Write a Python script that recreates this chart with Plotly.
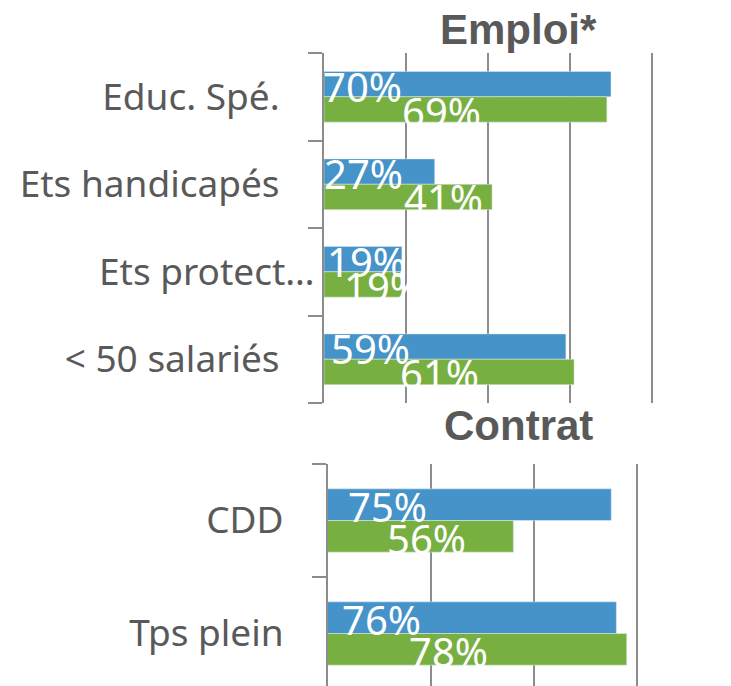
import plotly.graph_objects as go

# ---- data ----
emploi_cats = ["Educ. Spé.", "Ets handicapés", "Ets protect…", "< 50 salariés"]
emploi_blue = [0.70, 0.27, 0.19, 0.59]
emploi_green = [0.69, 0.41, 0.19, 0.61]
contrat_cats = ["CDD", "Tps plein"]
contrat_blue = [0.75, 0.76]
contrat_green = [0.56, 0.78]
emploi_title = "Emploi*"
contrat_title = "Contrat"
grid_vals = [0.2, 0.4, 0.6, 0.8]

# ---- style ----
W, H = 731, 686
OFF = 8  # page body margin
BLUE = "#4593C9"
GREEN = "#77B041"
GRID = "#8C8C8C"
TXT = "#595959"
LBL_FONT = dict(family="Noto Sans", size=40, color="white")
CAT_FONT = dict(family="Noto Sans", size=37, color=TXT)
TITLE_FONT = dict(family="Liberation Sans", size=42, color=TXT)
BW_TOP = 0.29
BW_BOT = 0.28
NB = "\u00a0" * 3 + "\u2009"
# horizontal pixel offsets of the value labels from the axis base
emploi_blue_dx = [-3, -2, 1, 5]
emploi_green_dx = [76, 78, 18, 74]
contrat_blue_dx = [18, 12]
contrat_green_dx = [57, 79]


def px_x(p):
    return (p - OFF) / W


def px_y(p):
    return 1 - (p - OFF) / H


fig = go.Figure()


def add_pair(cats, blue, green, xa, ya, bw):
    fig.add_trace(go.Bar(y=cats, x=blue, orientation="h", marker_color=BLUE,
                         offset=-bw, width=bw, xaxis=xa, yaxis=ya,
                         showlegend=False, hoverinfo="skip"))
    fig.add_trace(go.Bar(y=cats, x=green, orientation="h", marker_color=GREEN,
                         offset=0, width=bw, xaxis=xa, yaxis=ya,
                         showlegend=False, hoverinfo="skip"))


add_pair(emploi_cats, emploi_blue, emploi_green, "x", "y", BW_TOP)
add_pair(contrat_cats, contrat_blue, contrat_green, "x2", "y2", BW_BOT)

annotations = []


def add_labels(vals, dxs, xref, yref, base, sign, bw):
    for i, (v, dx) in enumerate(zip(vals, dxs)):
        annotations.append(dict(
            x=base, y=i + sign * bw / 2, xref=xref, yref=yref,
            text=f"{round(v * 100)}%", showarrow=False, xanchor="left",
            yanchor="middle", xshift=dx, yshift=-2, font=LBL_FONT))


add_labels(emploi_blue, emploi_blue_dx, "x", "y", 0, -1, BW_TOP)
add_labels(emploi_green, emploi_green_dx, "x", "y", 0, 1, BW_TOP)
add_labels(contrat_blue, contrat_blue_dx, "x2", "y2", 0.2, -1, BW_BOT)
add_labels(contrat_green, contrat_green_dx, "x2", "y2", 0.2, 1, BW_BOT)

annotations.append(dict(text=f"<b>{emploi_title}</b>", x=px_x(518), y=px_y(29),
                        xref="paper", yref="paper", showarrow=False,
                        xanchor="center", yanchor="middle", font=TITLE_FONT))
annotations.append(dict(text=f"<b>{contrat_title}</b>", x=px_x(518), y=px_y(425),
                        xref="paper", yref="paper", showarrow=False,
                        xanchor="center", yanchor="middle", font=TITLE_FONT))


def ticktext(cats):
    return [c if c.endswith("…") else c + NB for c in cats]


xcommon = dict(showticklabels=False, ticks="", showgrid=True, gridcolor=GRID,
               gridwidth=1.5, zeroline=False, showline=False, automargin=False,
               tickmode="array", tickvals=grid_vals)
ycommon = dict(type="category", showline=True, linecolor=GRID, linewidth=2,
               ticks="outside", tickson="boundaries", ticklen=14,
               tickcolor=GRID, tickwidth=2, showgrid=False, zeroline=False,
               automargin=False, tickfont=CAT_FONT)

# top: 0..0.8 spans screen px 324..652 ; bottom: 0.2..0.8 spans 328..637
top_scale = (652 - 324) / 0.8
bot_scale = (637 - 328) / 0.6
top_max = 0.81
bot_max = 0.81

fig.update_layout(
    width=W, height=H,
    margin=dict(l=0, r=0, t=0, b=0),
    paper_bgcolor="white", plot_bgcolor="white",
    barmode="overlay",
    xaxis=dict(domain=[px_x(324), px_x(324 + top_scale * top_max)],
               range=[0, top_max], anchor="y", **xcommon),
    yaxis=dict(domain=[px_y(403), px_y(53)], anchor="x",
               range=[3.5, -0.5], tickvals=emploi_cats,
               ticktext=ticktext(emploi_cats), **ycommon),
    xaxis2=dict(domain=[px_x(328), px_x(328 + bot_scale * (bot_max - 0.2))],
                range=[0.2, bot_max], anchor="y2", **xcommon),
    yaxis2=dict(domain=[px_y(690), px_y(464)], anchor="x2",
                range=[1.5, -0.5], tickvals=contrat_cats,
                ticktext=ticktext(contrat_cats), **ycommon),
    annotations=annotations,
)

fig.write_html("out.html")
